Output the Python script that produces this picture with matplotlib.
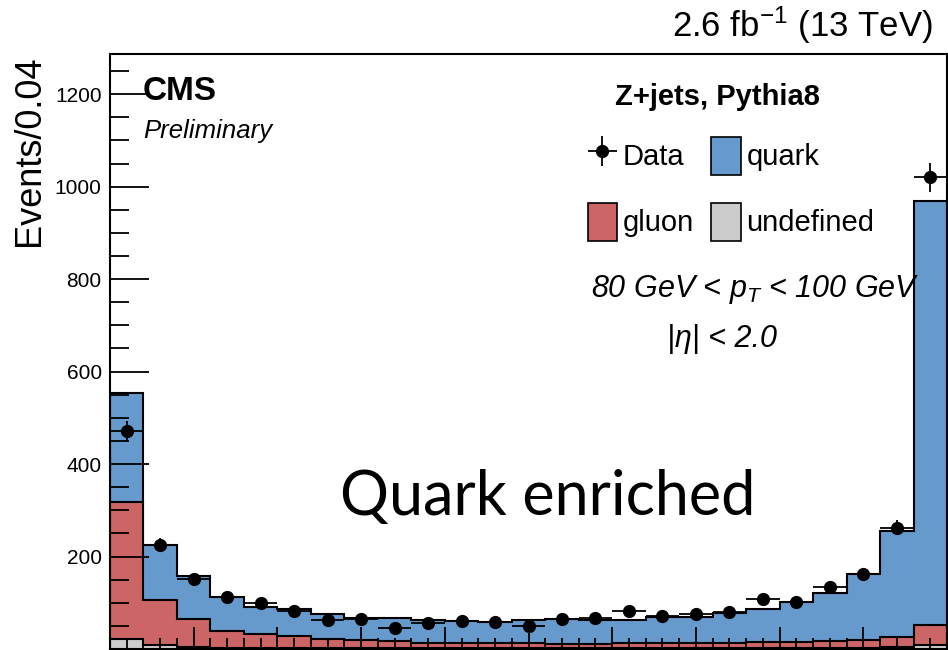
import numpy as np
import matplotlib
matplotlib.use('Agg')
import matplotlib.pyplot as plt
import matplotlib.patches as mpatches

plt.rcParams['font.family'] = ['Liberation Sans', 'DejaVu Sans']
plt.rcParams['mathtext.fontset'] = 'custom'
plt.rcParams['mathtext.rm'] = 'Liberation Sans'
plt.rcParams['mathtext.it'] = 'Liberation Sans:italic'
plt.rcParams['mathtext.bf'] = 'Liberation Sans:bold'

# 25 bins of width 0.04
edges = np.linspace(0, 1, 26)

# events per bin
data = [472, 226, 152, 113, 99, 83, 63, 65, 45, 57, 60, 58, 49,
        65, 68, 83, 72, 76, 79, 108, 102, 135, 162, 262, 1020]
undefined = [21, 8, 4, 3, 3, 2, 2, 2, 2, 2, 2, 2, 2,
             2, 2, 2, 2, 2, 2, 2, 2, 2, 3, 4, 8]
gluon = [297, 97, 61, 36, 30, 27, 20, 18, 16, 12, 12, 10, 10,
         9, 9, 10, 10, 10, 10, 14, 13, 15, 17, 21, 44]
quark = [235, 120, 92, 74, 58, 57, 53, 48, 49, 48, 47, 46, 50,
         54, 51, 51, 58, 57, 66, 71, 86, 104, 143, 230, 917]

c_quark = '#6699cc'
c_gluon = '#cc6666'
c_undef = '#cccccc'

fig = plt.figure(figsize=(9.48, 6.5), dpi=100)
ax = fig.add_axes([110 / 948, 1 / 650, 837 / 948, 595 / 650])

# stacked histograms, drawn from the top of the stack down
s1 = np.array(undefined)
s2 = s1 + np.array(gluon)
s3 = s2 + np.array(quark)
ax.stairs(s3, edges, fill=True, facecolor=c_quark, edgecolor='black', lw=1.5, zorder=1)
ax.stairs(s2, edges, fill=True, facecolor=c_gluon, edgecolor='black', lw=1.5, zorder=1.1)
ax.stairs(s1, edges, fill=True, facecolor=c_undef, edgecolor='black', lw=1.5, zorder=1.2)

# data points
centers = 0.5 * (edges[:-1] + edges[1:])
dat = ax.errorbar(centers, data, xerr=0.02, yerr=np.sqrt(data), fmt='o', color='black',
                  ms=8.5, elinewidth=1.3, capsize=0, zorder=5)

ax.set_xlim(0, 1)
ax.set_ylim(0, 1287)
ax.set_yticks([200, 400, 600, 800, 1000, 1200])
ax.set_yticks(np.arange(50, 1287, 50), minor=True)
ax.set_xticks(np.arange(0.1, 1.0, 0.1))
ax.set_xticks(np.arange(0.02, 1.0, 0.02), minor=True)
ax.tick_params(axis='y', which='major', direction='in', length=28, width=1.3, labelsize=15, pad=6)
ax.tick_params(axis='y', which='minor', direction='in', length=14, width=1.3)
ax.tick_params(axis='x', which='major', direction='in', length=16, width=1.3, labelbottom=False)
ax.tick_params(axis='x', which='minor', direction='in', length=8, width=1.3)
for sp in ax.spines.values():
    sp.set_linewidth(1.5)

# labels
fig.text(30 / 948, 1 - 55 / 650, 'Events/0.04', rotation=90, ha='center', va='top', fontsize=26)
fig.text(933 / 948, 1 - 37 / 650, r'2.6 fb$^{-1}$ (13 TeV)', ha='right', va='baseline', fontsize=25)
fig.text(143 / 948, 1 - 100 / 650, 'CMS', fontweight='bold', fontsize=24, va='baseline')
fig.text(143 / 948, 1 - 138 / 650, 'Preliminary', style='italic', fontsize=18.5, va='baseline')
fig.text(717 / 948, 1 - 105 / 650, 'Z+jets, Pythia8', fontweight='bold', fontsize=21,
         ha='center', va='baseline')
fig.text(755 / 948, 1 - 297 / 650, r'80 GeV < $p_{T}$ < 100 GeV', style='italic', fontsize=22,
         ha='center', va='baseline')
fig.text(722 / 948, 1 - 347 / 650, '|η| < 2.0', style='italic', fontsize=22,
         ha='center', va='baseline')
fig.text(340 / 948, 1 - 515 / 650, 'Quark enriched', family='Lato', fontsize=44, va='baseline')

# legend: Data / quark on top row, gluon / undefined below
handles = [dat,
           mpatches.Patch(facecolor=c_gluon, edgecolor='black', lw=1.2),
           mpatches.Patch(facecolor=c_quark, edgecolor='black', lw=1.2),
           mpatches.Patch(facecolor=c_undef, edgecolor='black', lw=1.2)]
labels = ['Data', 'gluon', 'quark', 'undefined']
ax.legend(handles, labels, ncol=2, fontsize=21, frameon=False, handlelength=1.0,
          handleheight=1.65, labelspacing=0.95, columnspacing=0.6, handletextpad=0.2,
          borderpad=0, loc='upper left', bbox_to_anchor=(573 / 948, 1 - 122 / 650),
          bbox_transform=fig.transFigure)

fig.savefig('out.png', dpi=100)
